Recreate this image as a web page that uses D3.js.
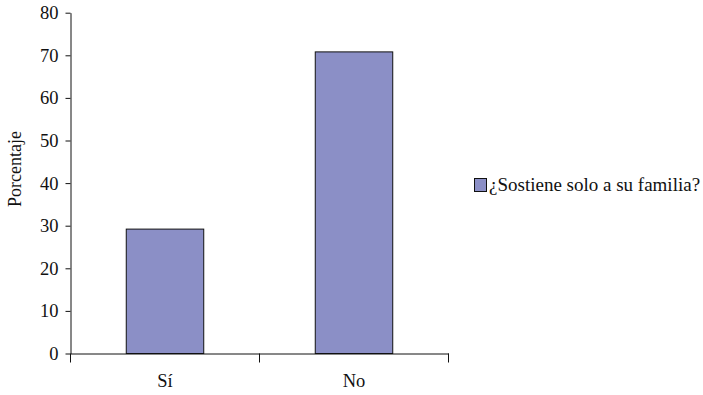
<!DOCTYPE html>
<html><head><meta charset="utf-8">
<script src="https://cdn.jsdelivr.net/npm/d3@7"></script>
<style>body{margin:0;background:#fff}svg{display:block}
svg text{font-family:"Liberation Serif","Times New Roman",Times,serif !important;fill:#111}</style>
</head><body><svg id="c" width="703" height="395"></svg>
<script>
const categories = ["Sí", "No"];
const values = [29.2, 70.8];
const yTicks = [0, 10, 20, 30, 40, 50, 60, 70, 80];
const seriesName = "¿Sostiene solo a su familia?";
const yTitle = "Porcentaje";

const svg = d3.select("#c");
const mLeft = 70.5, mRight = 448.5, mTop = 12.7, mBottom = 353.5;
const x = d3.scaleBand().domain(categories).range([mLeft, mRight]).padding(0);
const y = d3.scaleLinear().domain([0, 80]).range([mBottom, mTop]);
const fill = "#8b8fc6";

const barW = x.bandwidth() * 0.41;
svg.selectAll("rect.bar").data(values).enter().append("rect")
  .attr("class", "bar")
  .attr("x", (d, i) => x(categories[i]) + x.bandwidth() / 2 - barW / 2)
  .attr("y", d => y(d))
  .attr("width", barW)
  .attr("height", d => y(0) - y(d))
  .attr("fill", fill).attr("stroke", "#111").attr("stroke-width", 1);

const ya = svg.append("g").attr("transform", `translate(${mLeft},0)`)
  .call(d3.axisLeft(y).tickValues(yTicks).tickSize(5).tickPadding(7).tickSizeOuter(0));
ya.attr("font-family", null).attr("font-size", null);
ya.select(".domain").attr("stroke", "#111");
ya.selectAll(".tick line").attr("stroke", "#111");
ya.selectAll("text").style("font-size", "18.5px").attr("fill", "#111");

const xa = svg.append("g").attr("transform", `translate(0,${mBottom})`)
  .call(d3.axisBottom(x).tickSize(0).tickPadding(20));
xa.attr("font-family", null).attr("font-size", null);
xa.select(".domain").attr("stroke", "#111");
xa.selectAll("text").style("font-size", "18.5px").attr("fill", "#111");
const edges = [mLeft, x(categories[1]), mRight];
svg.selectAll("line.xt").data(edges).enter().append("line")
  .attr("x1", d => d).attr("x2", d => d)
  .attr("y1", mBottom).attr("y2", mBottom + 9).attr("stroke", "#111");

svg.append("text").attr("transform", "translate(21,169) rotate(-90)")
  .attr("text-anchor", "middle").style("font-size", "18px").text(yTitle);

svg.append("rect").attr("x", 474.5).attr("y", 178.5).attr("width", 12).attr("height", 13)
  .attr("fill", fill).attr("stroke", "#111");
svg.append("text").attr("x", 489).attr("y", 190.5).style("font-size", "19px").text(seriesName);
</script></body></html>
